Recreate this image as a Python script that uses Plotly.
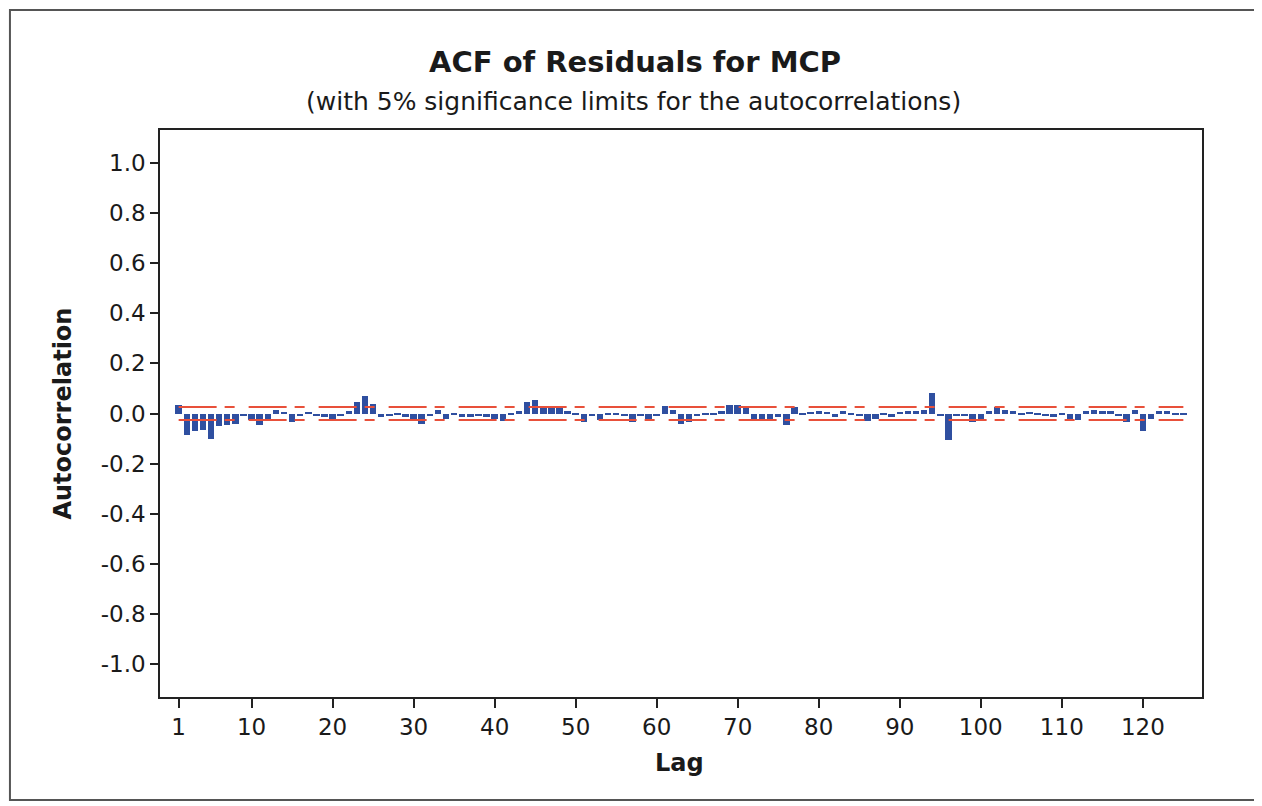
import plotly.graph_objects as go

lags = list(range(1, 126))
acf = [
    0.033, -0.085, -0.07, -0.065, -0.10, -0.05, -0.045, -0.04, -0.01, -0.025,
    -0.045, -0.02, 0.015, 0.005, -0.035, -0.01, 0.005, -0.01, -0.015, -0.02,
    -0.01, 0.01, 0.045, 0.07, 0.038, -0.015, -0.008, -0.005, -0.015, -0.02,
    -0.04, -0.01, 0.015, -0.02, -0.005, -0.015, -0.015, -0.01, -0.015, -0.02,
    -0.03, -0.005, 0.01, 0.045, 0.055, 0.03, 0.025, 0.02, 0.01, -0.005,
    -0.035, -0.01, -0.025, -0.005, -0.005, -0.01, -0.035, -0.01, -0.025, -0.01,
    0.03, 0.015, -0.04, -0.035, -0.01, -0.005, -0.005, 0.01, 0.035, 0.035,
    0.025, -0.02, -0.03, -0.02, -0.015, -0.045, 0.027, -0.005, 0.005, 0.01,
    0.005, -0.015, 0.01, -0.005, -0.01, -0.03, -0.02, -0.005, -0.015, 0.005,
    0.01, 0.01, 0.015, 0.08, -0.01, -0.105, -0.01, -0.01, -0.035, -0.02,
    0.01, 0.025, 0.015, 0.01, -0.005, 0.005, -0.005, -0.01, -0.015, -0.005,
    -0.02, -0.025, 0.01, 0.015, 0.01, 0.01, -0.01, -0.035, 0.015, -0.07,
    -0.02, 0.01, 0.01, -0.005, -0.005,
]
limit_lags = [1, 125]
upper_limit = [0.026, 0.026]
lower_limit = [-0.026, -0.026]
x_ticks = [1, 10, 20, 30, 40, 50, 60, 70, 80, 90, 100, 110, 120]
y_ticks = [1.0, 0.8, 0.6, 0.4, 0.2, 0.0, -0.2, -0.4, -0.6, -0.8, -1.0]

FONT = "DejaVu Sans"
TXT = "#1a1a1a"
BLUE = "#2f4fa0"
RED = "#e8503a"

fig = go.Figure()
fig.add_trace(go.Bar(x=lags, y=acf, marker=dict(color=BLUE, line=dict(width=0)),
                     width=0.8, showlegend=False))
for lim in (upper_limit, lower_limit):
    fig.add_trace(go.Scatter(x=limit_lags, y=lim, mode="lines",
                             line=dict(color=RED, width=2, dash="38px,8px,10px,14px"),
                             showlegend=False, hoverinfo="skip"))

fig.add_hline(y=0, line=dict(color="#333333", width=1.2), layer="below")

fig.update_layout(
    width=1254, height=798,
    margin=dict(l=152, r=60, t=122, b=109),
    paper_bgcolor="white", plot_bgcolor="white",
    font=dict(family=FONT, color=TXT),
    bargap=0,
    xaxis=dict(
        range=[-1.3, 127.3], tickmode="array", tickvals=x_ticks,
        ticks="outside", ticklen=9, tickwidth=1.5, tickcolor="#222",
        tickfont=dict(size=23), showgrid=False, zeroline=False,
        showline=True, linecolor="#222", linewidth=1.5, mirror=True,
    ),
    yaxis=dict(
        range=[-1.132, 1.132], tickmode="array", tickvals=y_ticks,
        ticktext=[f"{v:.1f}" for v in y_ticks],
        ticks="outside", ticklen=8, tickwidth=1.5, tickcolor="#222",
        tickfont=dict(size=23), showgrid=False, zeroline=False,
        showline=True, linecolor="#222", linewidth=1.5, mirror=True,
    ),
    annotations=[
        dict(text="<b>ACF of Residuals for MCP</b>", xref="paper", yref="paper",
             x=0.456, y=1.12, xanchor="center", yanchor="middle", showarrow=False,
             font=dict(family=FONT, size=29, color=TXT)),
        dict(text="(with 5% significance limits for the autocorrelations)", xref="paper", yref="paper",
             x=0.454, y=1.051, xanchor="center", yanchor="middle", showarrow=False,
             font=dict(family=FONT, size=25, color=TXT)),
        dict(text="<b>Lag</b>", xref="paper", yref="paper",
             x=0.499, y=-0.1164, xanchor="center", yanchor="middle", showarrow=False,
             font=dict(family=FONT, size=24, color=TXT)),
        dict(text="<b>Autocorrelation</b>", xref="paper", yref="paper", textangle=-90,
             x=-0.094, y=0.5, xanchor="center", yanchor="middle", showarrow=False,
             font=dict(family=FONT, size=24, color=TXT)),
    ],
    shapes=[dict(type="rect", xref="paper", yref="paper", x0=-0.144, x1=1.0528,
                 y0=-0.1817, y1=1.2116, line=dict(color="#555", width=2))],
)

fig.write_html("out.html")
